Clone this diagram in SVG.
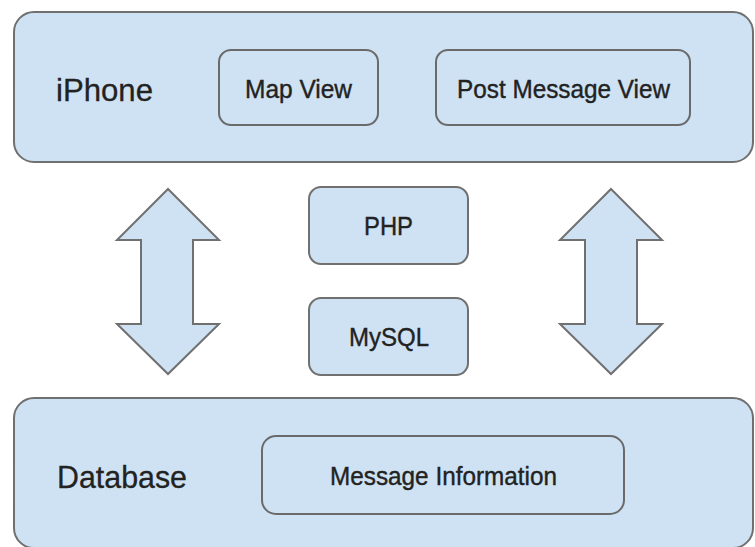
<svg xmlns="http://www.w3.org/2000/svg" width="755" height="547" viewBox="0 0 755 547">
<style>
.box{fill:#cfe2f3;stroke:#707070;stroke-width:2}
.inner{fill:#cfe2f3;stroke:#6a6a6a;stroke-width:2}
.big{font-family:"Liberation Sans",Arial,sans-serif;font-size:32px;fill:#222;stroke:#222;stroke-width:0.3}
.lbl{font-family:"Liberation Sans",Arial,sans-serif;font-size:26px;fill:#222;stroke:#222;stroke-width:0.4}
</style>
<rect width="755" height="547" fill="#ffffff"/>
<g id="iphone">
<rect class="box" x="14" y="12" width="739" height="150" rx="20"/>
<text class="big" x="56" y="101" textLength="97" lengthAdjust="spacingAndGlyphs">iPhone</text>
</g>
<g id="mapview">
<rect class="inner" x="219" y="50" width="159" height="75" rx="12"/>
<text class="lbl" x="245" y="98" textLength="107" lengthAdjust="spacingAndGlyphs">Map View</text>
</g>
<g id="postmessageview">
<rect class="inner" x="436" y="50" width="254" height="75" rx="12"/>
<text class="lbl" x="457" y="98" textLength="213" lengthAdjust="spacingAndGlyphs">Post Message View</text>
</g>
<g id="php">
<rect class="box" x="309" y="187" width="159" height="77" rx="12"/>
<text class="lbl" x="364" y="235" textLength="49" lengthAdjust="spacingAndGlyphs">PHP</text>
</g>
<g id="mysql">
<rect class="box" x="309" y="298" width="159" height="77" rx="12"/>
<text class="lbl" x="349" y="346" textLength="80" lengthAdjust="spacingAndGlyphs">MySQL</text>
</g>
<g id="database">
<rect class="box" x="14" y="398" width="739" height="150" rx="20"/>
<text class="big" x="57" y="488" textLength="130" lengthAdjust="spacingAndGlyphs">Database</text>
</g>
<g id="messageinformation">
<rect class="inner" x="262" y="436" width="362" height="78" rx="14"/>
<text class="lbl" x="330" y="485" textLength="227" lengthAdjust="spacingAndGlyphs">Message Information</text>
</g>
<g id="connectors">
<path class="box" stroke-linejoin="miter" d="M168,189 L219,240 L193,240 L193,324 L219,324 L168,374 L117,324 L141,324 L141,240 L117,240 Z"/>
<path class="box" stroke-linejoin="miter" d="M611,189 L662,240 L637,240 L637,324 L662,324 L611,374 L560,324 L585,324 L585,240 L560,240 Z"/>
</g>
</svg>
